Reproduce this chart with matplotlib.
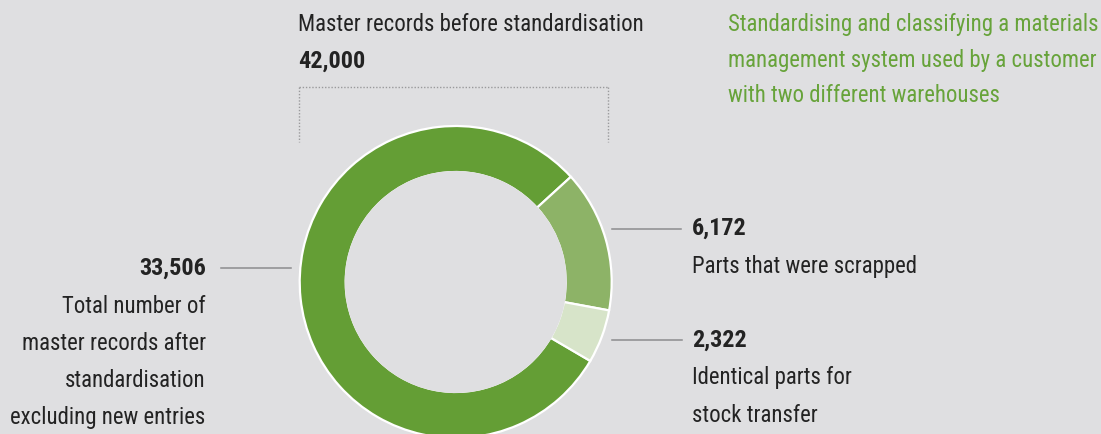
import matplotlib
matplotlib.use("Agg")
import matplotlib.pyplot as plt
from matplotlib.patches import Circle
from matplotlib import font_manager as fm

# ---- data ----
values = [33506, 6172, 2322]
value_labels = ["33,506", "6,172", "2,322"]
descriptions = [
    ["Total number of", "master records after", "standardisation", "excluding new entries"],
    ["Parts that were scrapped"],
    ["Identical parts for", "stock transfer"],
]
total_title = "Master records before standardisation"
headline = ["Standardising and classifying a materials",
            "management system used by a customer",
            "with two different warehouses"]

# ---- font choice ----
family = "DejaVu Sans"
for cand in ["Roboto Condensed", "Liberation Sans Narrow", "DejaVu Sans Condensed", "Roboto"]:
    try:
        fm.findfont(fm.FontProperties(family=cand), fallback_to_default=False)
        family = cand
        break
    except Exception:
        pass
plt.rcParams['font.family'] = [family, 'DejaVu Sans']

# ---- style ----
BG = "#dfdfe1"
GREEN_TXT = "#67a33a"
slice_colors = ["#649e35", "#8db367", "#d7e4c9"]
TXT = "#232323"
LINE = "#8c8c8e"
W, H = 1101, 434

fig = plt.figure(figsize=(W / 100, H / 100), dpi=100)
fig.patch.set_facecolor(BG)
ax = fig.add_axes([0, 0, 1, 1])
ax.set_facecolor(BG)

# calibrate font sizes so widths match the reference
renderer = fig.canvas.get_renderer()
probe = fig.text(0, 0, total_title, fontsize=15)
wpx = probe.get_window_extent(renderer).width
probe.remove()
FS = 15 * 345.0 / wpx
probe = fig.text(0, 0, "42,000", fontsize=15, fontweight="bold")
wpx_b = probe.get_window_extent(renderer).width
probe.remove()
FSB = 15 * 68.0 / wpx_b

def Y(y):
    return H - y

cx, cy = 455.7, Y(282)
R, r = 156, 110
ax.pie(values, colors=slice_colors, startangle=-30.4, counterclock=False,
       radius=R, center=(cx, cy), frame=False,
       wedgeprops=dict(width=R - r, edgecolor="white", linewidth=1.6))
ax.add_patch(Circle((cx, cy), r + 1.0, facecolor=BG, edgecolor="none", zorder=5))

ax.set_xlim(0, W)
ax.set_ylim(0, H)
ax.set_aspect("equal")
ax.axis("off")

# bracket
dot = (0, (1, 1.3))
ax.plot([299, 608], [Y(87), Y(87)], ls=dot, color="#9a9a9c", lw=1)
ax.plot([299, 299], [Y(87), Y(142)], ls=dot, color="#9a9a9c", lw=1)
ax.plot([608, 608], [Y(87), Y(142)], ls=dot, color="#9a9a9c", lw=1)

# top texts
ax.text(298, Y(31), total_title, fontsize=FS, color=TXT, va="baseline", ha="left")
ax.text(298, Y(67.7), f"{sum(values):,}", fontsize=FSB, color=TXT,
        fontweight="bold", va="baseline", ha="left")

for i, line in enumerate(headline):
    ax.text(728, Y(31 + 35.5 * i), line, fontsize=FS, color=GREEN_TXT,
            va="baseline", ha="left")

# leader lines
ax.plot([221, 290.5], [Y(268.3), Y(268.3)], color=LINE, lw=1.1)
ax.plot([612, 681], [Y(229.3), Y(229.3)], color=LINE, lw=1.1)
ax.plot([612, 682], [Y(340), Y(340)], color=LINE, lw=1.1)

# left label
ax.text(205.7, Y(274.3), value_labels[0], fontsize=FSB, color=TXT,
        fontweight="bold", ha="right", va="baseline")
for i, line in enumerate(descriptions[0]):
    ax.text(205.7, Y(313.3 + 37 * i), line, fontsize=FS, color=TXT,
            ha="right", va="baseline")

# right labels
ax.text(691.7, Y(235), value_labels[1], fontsize=FSB, color=TXT,
        fontweight="bold", ha="left", va="baseline")
for i, line in enumerate(descriptions[1]):
    ax.text(691.7, Y(272.7 + 37.5 * i), line, fontsize=FS, color=TXT,
            ha="left", va="baseline")

ax.text(691.7, Y(346.7), value_labels[2], fontsize=FSB, color=TXT,
        fontweight="bold", ha="left", va="baseline")
for i, line in enumerate(descriptions[2]):
    ax.text(691.7, Y(384.3 + 37.4 * i), line, fontsize=FS, color=TXT,
            ha="left", va="baseline")

fig.savefig("out.png", dpi=100, facecolor=BG)
